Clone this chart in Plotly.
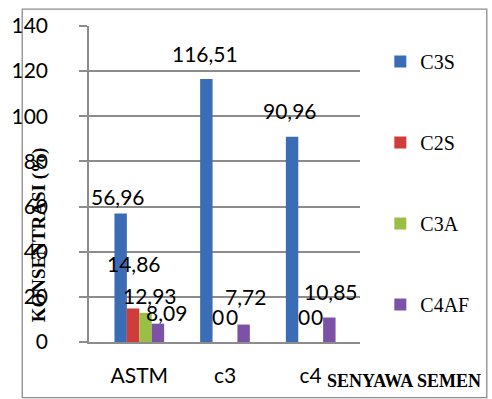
import plotly.graph_objects as go

# ---- data ----
categories = ["ASTM", "c3", "c4"]
series_names = ["C3S", "C2S", "C3A", "C4AF"]
c3s = [56.96, 116.51, 90.96]
c2s = [14.86, 0, 0]
c3a = [12.93, 0, 0]
c4af = [8.09, 7.72, 10.85]
y_ticks = [0, 20, 40, 60, 80, 100, 120, 140]
y_title = "KONSENTRASI (%)"
x_title = "SENYAWA SEMEN"

series_values = [c3s, c2s, c3a, c4af]

# ---- style ----
colors = ["#3a6db5", "#cf3c3a", "#9abf45", "#7b52a6"]
label_dx = [[-1, 0, 0], [1, 0, 0], [4, 0, 0], [7, 0, 0]]
label_dy = [[17, 26, 26], [45, 26, 26], [17, 26, 26], [11, 28, 26]]

W, H = 492, 399
ML, MR, MT, MB = 80, 132, 24, 57
BARGAP = 0.42
GRID = "#8c8c8c"
NUM_FONT = dict(family="Lato", size=21, color="black")
SERIF = "Liberation Serif"


def fmt(v):
    s = f"{v:.2f}".rstrip("0").rstrip(".")
    return s.replace(".", ",")


fig = go.Figure()
for i, (name, vals) in enumerate(zip(series_names, series_values)):
    fig.add_trace(go.Bar(
        x=categories, y=vals, name=name,
        marker=dict(color=colors[i], line=dict(width=0)),
        legendgroup=name, hoverinfo="skip",
    ))

plot_w = W - ML - MR
plot_h = H - MT - MB
cat_w = plot_w / len(categories)
bar_w = cat_w * (1 - BARGAP) / len(series_names)

annotations = []
for i, vals in enumerate(series_values):
    off = (i - (len(series_names) - 1) / 2) * bar_w
    for j, (cat, v) in enumerate(zip(categories, vals)):
        annotations.append(dict(
            x=cat, y=v, xref="x", yref="y", text=fmt(v), showarrow=False,
            xanchor="center", yanchor="middle",
            xshift=off + label_dx[i][j], yshift=label_dy[i][j],
            font=NUM_FONT,
        ))


def px_x(px):
    return (px - ML) / plot_w


def px_y(py):
    return 1 - (py - MT) / plot_h


annotations.append(dict(
    x=px_x(28.5), y=px_y(234.5), xref="paper", yref="paper", text=y_title,
    textangle=-90, showarrow=False, xanchor="center", yanchor="middle",
    font=dict(family=SERIF, size=19, color="black", weight="bold"),
))
annotations.append(dict(
    x=px_x(405), y=px_y(381), xref="paper", yref="paper", text=x_title,
    showarrow=False, xanchor="center", yanchor="middle",
    font=dict(family=SERIF, size=18, color="black", weight="bold"),
))

fig.update_layout(
    width=W, height=H,
    font=dict(family=SERIF, size=20, color="black"),
    margin=dict(l=ML, r=MR, t=MT, b=MB, pad=0),
    paper_bgcolor="white", plot_bgcolor="white",
    barmode="group", bargap=BARGAP, bargroupgap=0,
    annotations=annotations,
    legend=dict(
        x=px_x(381), y=px_y(40), xanchor="left", yanchor="top",
        traceorder="grouped", tracegroupgap=52,
        bgcolor="rgba(0,0,0,0)",
    ),
    legend_font_family=SERIF,
    legend_font_size=20,
    shapes=[dict(
        type="rect", xref="paper", yref="paper",
        x0=px_x(11), x1=px_x(491), y0=px_y(398), y1=px_y(7),
        line=dict(color=GRID, width=1.3), layer="above",
    )],
)
fig.update_yaxes(
    range=[0, 140], tickvals=y_ticks, showgrid=True, gridcolor=GRID, gridwidth=1.5,
    zeroline=False, showline=True, linecolor=GRID, linewidth=1.5,
    ticks="outside", ticklen=8, tickcolor=GRID, tickwidth=1.5,
    tickfont=NUM_FONT, ticklabelstandoff=27,
)
fig.update_xaxes(
    showline=True, linecolor=GRID, linewidth=1.5, ticks="",
    tickfont=NUM_FONT, ticklabelstandoff=14,
)

fig.write_html("out.html", config={"displayModeBar": False},
               post_script="document.body.style.margin='0';")
